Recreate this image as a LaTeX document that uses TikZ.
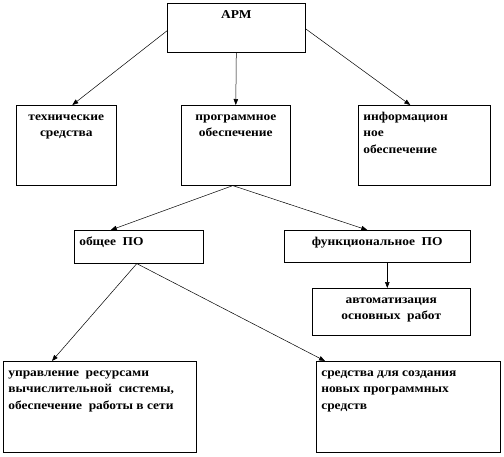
\documentclass[tikz,border=0pt]{standalone}
\usepackage{fontspec}
\setmainfont[FakeStretch=1.12]{Liberation Serif}
\usetikzlibrary{arrows.meta}
\tikzset{blok/.style={draw, line width=0.6pt, inner sep=0pt, anchor=north west,
  font=\bfseries\fontsize{12}{16.5}\selectfont},
  pfeil/.style={line width=0.5pt, -{Triangle[length=6pt,width=4.5pt]}}}
% box text: width, height, alignment, text
\newcommand{\feld}[4]{\parbox[c][#2][t]{#1}{#3\rule{0pt}{15pt}#4}}
\newcommand{\links}{\raggedright\leftskip=5pt}

\begin{document}
\begin{tikzpicture}[x=1pt, y=-1pt]
  \useasboundingbox (0,0) rectangle (504,456);
  % top level
  \node[blok] (arm) at (167,3) {\feld{138pt}{49pt}{\centering}{АРМ}};
  \node[blok] (tech) at (16,105) {\feld{100pt}{80pt}{\centering}{технические\\ средства}};
  \node[blok] (prog) at (181,105) {\feld{109pt}{80pt}{\centering}{программное\\ обеспечение}};
  \node[blok] (info) at (358,105) {\feld{132pt}{80pt}{\links}{информацион\\ ное\\ обеспечение}};
  % software
  \node[blok] (obsh) at (74,230) {\feld{129pt}{33pt}{\links}{общее~ ПО}};
  \node[blok] (funk) at (284,230) {\feld{186pt}{32pt}{\centering}{функциональное~ ПО}};
  \node[blok] (avto) at (312,288) {\feld{158pt}{47pt}{\centering}{автоматизация\\ основных~ работ}};
  \node[blok] (upr) at (3,361) {\feld{193pt}{91pt}{\links}{управление~ ресурсами\\ вычислительной~ системы,\\ обеспечение~ работы в сети}};
  \node[blok] (sred) at (316,361) {\feld{184pt}{91pt}{\links}{средства для создания\\ новых программных\\ средств}};
  % connectors
  \draw[pfeil] ([yshift=-3pt]arm.west) -- ([xshift=6pt]tech.north);
  \draw[pfeil] (arm.south) -- (prog.north);
  \draw[pfeil] ([yshift=-1pt]arm.east) -- ([xshift=-14pt]info.north);
  \draw[pfeil] ([xshift=-3pt]prog.south) -- ([xshift=-28pt]obsh.north);
  \draw[pfeil] ([xshift=-3pt]prog.south) -- ([xshift=-10pt]funk.north);
  \draw[pfeil] ([xshift=10pt]funk.south) -- ([xshift=-4pt]avto.north);
  \draw[pfeil] ([xshift=-2pt]obsh.south) -- ([xshift=49pt]upr.north west);
  \draw[pfeil] ([xshift=-2pt]obsh.south) -- ([xshift=9pt]sred.north west);
\end{tikzpicture}
\end{document}
